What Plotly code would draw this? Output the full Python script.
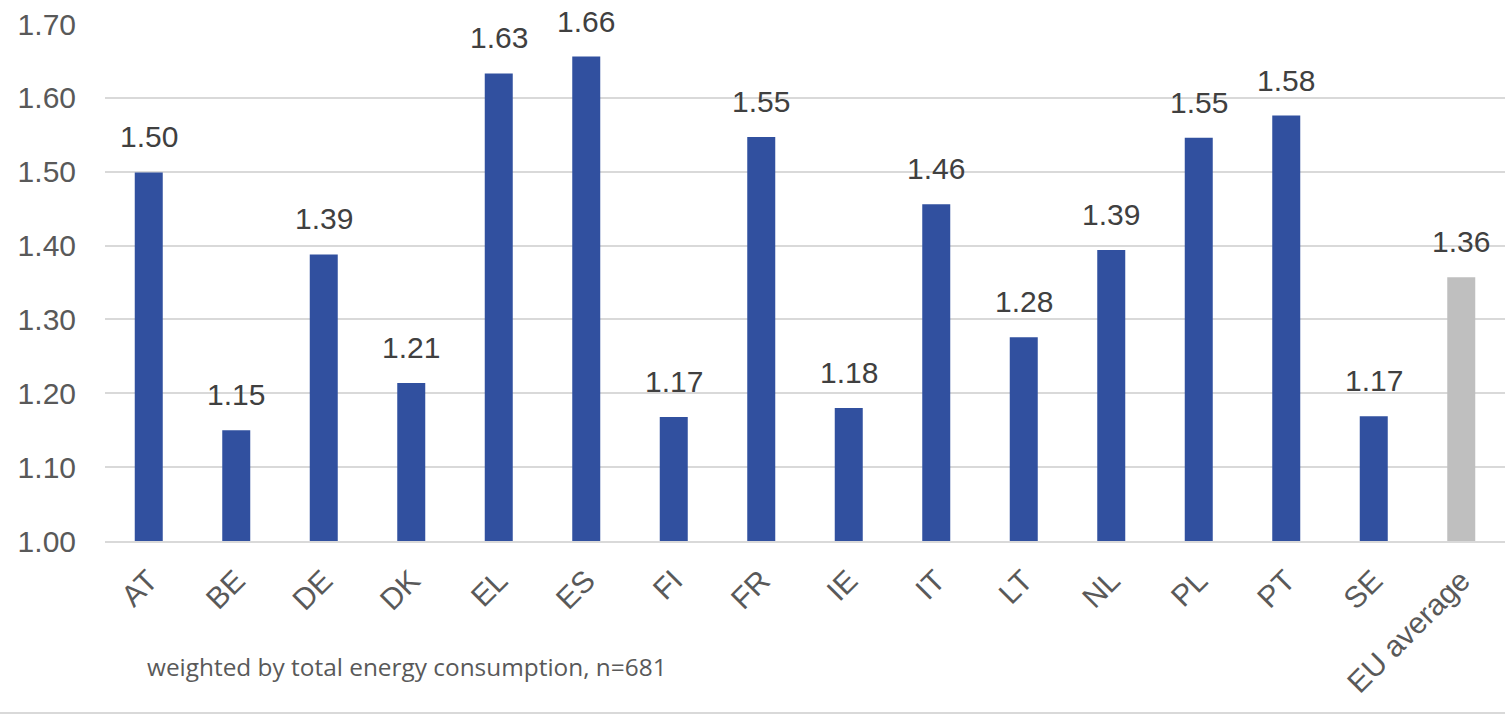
import plotly.graph_objects as go

# Country codes and the weighted ratio per country
countries = ["AT", "BE", "DE", "DK", "EL", "ES", "FI", "FR", "IE", "IT",
             "LT", "NL", "PL", "PT", "SE", "EU average"]
ratios = [1.499, 1.150, 1.388, 1.214, 1.633, 1.656, 1.168, 1.547, 1.180,
          1.456, 1.276, 1.394, 1.546, 1.576, 1.169, 1.357]
y_ticks = [1.00, 1.10, 1.20, 1.30, 1.40, 1.50, 1.60, 1.70]
note = "weighted by total energy consumption, n=681"

BLUE = "#31509F"
GREY = "#BFBFBF"
GRID = "#D9D9D9"
TEXT = "#404040"
AXIS_TEXT = "#595959"
FONT = "Liberation Sans, Arial"

colors = [GREY if c == "EU average" else BLUE for c in countries]

# Bars start at 1.00, so each bar's length is ratio - 1
fig = go.Figure(
    go.Bar(
        x=countries,
        y=[r - 1.0 for r in ratios],
        base=1.0,
        marker=dict(color=colors, line=dict(width=0)),
        hoverinfo="skip",
    )
)

# Value labels above each bar
for c, r in zip(countries, ratios):
    fig.add_annotation(
        x=c, y=r, text=f"{r:.2f}", showarrow=False,
        yanchor="bottom", yshift=17,
        font=dict(family=FONT, size=30, color=TEXT),
    )

# Footnote
fig.add_annotation(
    xref="x domain", yref="y domain",
    x=(145 - 105) / 1400, y=-(666 - 541) / 517,
    text=note, showarrow=False, xanchor="left", yanchor="middle",
    font=dict(family="Open Sans", size=24.4, color=AXIS_TEXT),
)

# Thin rule across the bottom of the page
fig.add_shape(
    type="line", xref="paper", yref="paper",
    x0=-105 / 1400, x1=1.0, y0=-(713 - 541) / 517, y1=-(713 - 541) / 517,
    line=dict(color=GRID, width=2),
)

fig.update_layout(
    width=1506, height=716,
    margin=dict(l=105, r=1, t=24, b=175),
    plot_bgcolor="white", paper_bgcolor="white",
    bargap=0.68,
    showlegend=False,
    font=dict(family=FONT, size=30, color=TEXT),
)
fig.update_yaxes(
    range=[1.0, 1.70], tickvals=y_ticks, ticktext=[f"{v:.2f}" for v in y_ticks],
    showgrid=True, gridcolor=GRID, gridwidth=2, zeroline=False,
    ticklabelstandoff=28, tickfont=dict(size=30, color=AXIS_TEXT),
)
fig.update_xaxes(
    tickangle=-45, showgrid=False, showline=True, linecolor=GRID, linewidth=2,
    tickfont=dict(size=30, color=AXIS_TEXT), ticklabelstandoff=8,
)

fig.write_html("out.html")
